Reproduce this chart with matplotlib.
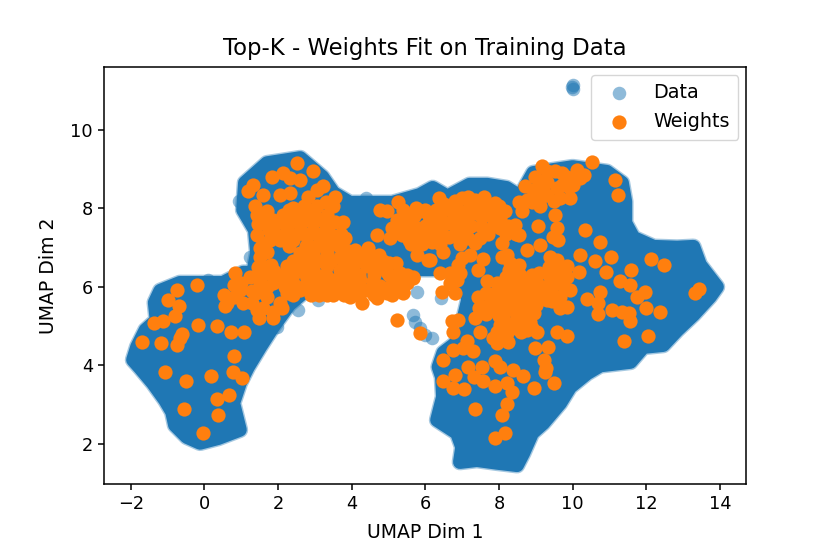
# UMAP embedding with the fitted weights on top
import numpy as np
import matplotlib
matplotlib.use('Agg')
import matplotlib.pyplot as plt

# stray data points, drawn see-through
stray=np.array([[10,11.15],[10,11.05],[9.98,11.08],[.1,6.18],[2.54,5.41],[3.09,5.67],[4.4,8.27],[.94,8.2],[1.24,6.76],
 [5.77,5.87],[6.42,5.71],[1.97,4.98],[5.67,5.29],[5.72,5.11],[5.86,4.95],[5.99,4.78],[6.18,4.7]])
# outline of the saturated part of the data cloud, clockwise
outline=np.array([[-.12,2.03],[-.48,2.18],[-.8,2.48],[-.88,2.82],[-1.07,3.12],[-1.4,3.55],[-1.75,3.94],[-1.94,4.14],[-1.83,4.47],
 [-1.6,4.9],[-1.3,5.15],[-1.35,5.6],[-1.2,5.9],[-.67,6.1],[-.12,6.1],[.5,6.1],[1.05,6.36],[1.32,6.36],[1.43,6.87],[1.37,7.45],
 [1.05,7.96],[1.1,8.65],[1.7,9.15],[2.6,9.28],[3.2,8.8],[3.5,8.39],[3.95,8.14],[5.1,8.14],[5.85,8.34],[6.2,8.52],[6.6,8.3],[7.2,8.6],
 [7.68,8.6],[8.2,8.52],[8.57,8.3],[8.93,8.9],[10,9.05],[10.93,8.93],[11.34,8.65],[11.43,8.17],[11.43,7.63],[11.65,7.25],[12.2,7.02],
 [12.84,7],[13.28,7.02],[13.46,6.56],[13.92,6],[13.73,5.75],[13.28,5.29],[12.84,4.9],[12.46,4.52],[11.92,4.47],[11.57,4.09],
 [10.75,4],[10.39,3.8],[9.93,3.45],[9.66,3.04],[9.2,2.53],[8.9,2.28],[8.66,1.77],[8.49,1.46],[7.95,1.52],[7.4,1.59],[6.94,1.54],
 [7,1.92],[6.86,2.28],[6.32,2.61],[6.48,3.2],[6.45,3.71],[6.36,3.96],[6.49,4.32],[6.77,4.52],[7.13,4.9],[7.03,5.16],[7.16,5.67],
 [7,6.3],[6.4,6.45],[5.8,6.45],[5.3,6.1],[4.5,6],[3.6,6],[2.8,5.95],[2.3,5.55],[1.86,4.98],[1.51,4.47],
 [1.18,3.96],[.96,3.55],[.78,3.04],[.96,2.36],[.37,2.15]])
# fitted weights
weights=np.array([[-.03,2.27],[.38,2.74],[-.56,2.89],[.35,3.14],[.67,3.24],[1.01,3.67],[.77,3.84],[.18,3.73],[-.51,3.6],[-1.07,3.83],
 [.81,4.25],[-.75,4.51],[-.67,4.69],[-.6,4.8],[-1.17,4.58],[-1.7,4.59],[-1.37,5.08],[-1.12,5.13],[-.8,5.27],[-.69,5.52],[-1,5.66],[-.76,5.92],
 [-.18,5.03],[.33,5.01],[.72,4.84],[1.07,4.86],[-.21,6.05],[.53,5.8],[.56,5.52],[1.48,5.2],[1.87,5.2],[1.85,5.37],[2.1,5.46],
 [.83,6.35],[1.24,6.26],[.96,5.92],[.6,5.58],[1.05,5.58],[1.42,5.41],[1.69,5.75],[1.87,6.09],[1.51,6.09],[1.51,6.77],[1.6,7.11],[1.42,7.32],
 [1.78,7.2],[1.33,8.6],[1.19,8.43],[1.6,8.34],[1.37,8.05],[1.42,7.83],[1.69,7.92],[1.6,7.62],[1.87,7.71],[1.83,8.79],[2.14,8.9],[2.5,9.15],
 [2.32,8.77],[2.6,8.73],[2.05,8.34],[2.32,8.39],[2.96,8.94],[3.23,8.56],[3.05,8.47],[2.82,8.3],[3.55,8.3],[3.5,8.05],[3.32,7.83],[3.77,7.66],
 [3.82,7.24],[2.14,7.83],[2.5,7.83],[2.87,7.92],[3.05,8.05],[2.23,7.54],[2.6,7.58],[2.96,7.62],[3.32,7.45],[2.05,7.2],[2.41,7.2],[2.78,7.28],
 [3.14,7.2],[3.5,7.11],[2.6,6.86],[2.96,6.86],[3.32,6.86],[3.68,6.77],[4.04,6.77],[4.41,6.86],[2.23,6.52],[2.6,6.52],[2.96,6.52],[3.32,6.52],
 [3.68,6.43],[4.04,6.48],[4.41,6.52],[4.77,6.48],[2.05,6.18],[2.41,6.09],[2.78,6.18],[3.14,6.18],[3.5,6.18],[3.86,6.14],[4.23,6.18],[4.59,6.14],
 [4.95,6.39],[5.31,6.35],[5.67,6.26],[5.49,6.09],[5.13,6.09],[4.77,6.01],[4.41,5.92],[4.04,5.88],[3.68,5.97],[3.32,5.8],[3.05,6.01],[4.27,5.58],
 [4.68,5.71],[4.95,5.84],[5.4,5.84],[3.95,5.75],[2.6,5.92],[2.23,5.84],[2.05,5.58],[1.87,5.33],[5.22,5.16],[4.77,7.96],[4.95,7.92],[5.25,8.17],
 [4.68,7.32],[5.04,7.24],[5.36,7.32],[5.58,7.83],[5.22,7.71],[5.86,7.92],[5.99,7.54],[5.67,7.37],[6.13,7.2],[5.77,6.82],[6.08,6.69],[5.86,4.82],
 [6.37,8.26],[5.99,7.96],[6.67,7.96],[6.99,8.26],[7.35,8.22],[7.58,8.3],[7.9,8.13],[8.17,7.92],[6.94,7.92],[7.35,7.88],[7.67,7.83],[8.03,7.75],
 [6.58,7.62],[7.03,7.62],[6.22,7.71],[5.49,7.49],[6.22,7.45],[6.63,7.28],[6.17,7.15],[7.17,7.24],[7.49,7.24],[7.35,7.11],[8.03,7.49],[8.44,7.58],
 [8.53,7.32],[8.08,7.11],[8.21,6.82],[8.08,6.77],[6.13,6.69],[6.49,6.9],[6.99,6.73],[7.21,6.82],[6.9,6.56],[7.57,6.71],[7.44,6.42],[6.4,6.35],
 [6.67,6.35],[6.95,6.35],[6.45,5.88],[6.81,5.84],[6.67,6.09],[6.85,6.18],[5.4,6.26],[5.67,6.22],[5.4,5.88],[8.26,6.43],[8.58,6.3],[7.67,6.14],
 [7.94,6.09],[8.3,6.09],[8.66,6.01],[9.03,6.09],[9.39,6.26],[9.84,6.52],[10.16,6.39],[9.57,6.09],[9.93,5.92],[9.66,5.75],[9.3,5.67],[9.03,5.75],
 [8.75,5.67],[8.39,5.67],[8.03,5.75],[7.42,5.75],[7.58,5.5],[7.85,5.41],[8.21,5.41],[8.58,5.41],[8.94,5.33],[9.66,5.46],[9.84,5.5],[7.35,5.2],
 [6.72,5.12],[6.9,5.16],[6.76,4.86],[8.03,5.03],[8.3,4.99],[8.75,4.9],[9.03,4.84],[7.49,4.86],[8.12,5.24],[8.66,5.16],[9.57,4.84],[9.84,4.75],
 [9.16,9.07],[10.53,9.18],[11.14,8.71],[11.22,8.33],[10.11,8.98],[9.52,8.94],[8.98,8.81],[8.71,8.56],[9.84,8.81],[10.2,8.77],[9.3,8.68],[8.93,8.47],
 [9.57,8.51],[9.93,8.26],[9.66,8.26],[9.3,8.34],[8.75,8.22],[9.12,8.05],[8.62,7.92],[9.52,7.83],[9.07,7.56],[9.57,7.49],[9.48,7.28],[9.6,7.2],
 [8.77,6.93],[9.12,7.07],[9.39,6.77],[9.57,6.69],[10.19,6.82],[10.34,7.44],[10.75,7.14],[10.6,6.67],[11.04,6.76],[10.9,6.37],[12.12,6.71],[12.47,6.56],
 [11.59,6.42],[11.29,6.14],[11.56,6.05],[11.74,5.75],[11.97,5.86],[10.75,5.86],[10.4,5.69],[10.7,5.58],[10.7,5.31],[11.06,5.4],[11.34,5.35],[11.52,5.33],
 [11.56,5.14],[12,5.46],[12.38,5.35],[13.33,5.84],[13.43,5.95],[11.4,4.61],[12.06,4.76],[7.94,4.56],[8.21,4.82],[8.98,4.44],[9.34,4.46],[9.21,4.14],
 [9.27,3.93],[9.24,3.82],[9.5,3.56],[8.94,3.42],[7.89,4.12],[8.03,3.97],[8.39,3.89],[8.66,3.72],[7.53,3.97],[7.15,3.97],[7.31,3.7],[7.56,3.61],[6.81,3.76],
 [6.47,3.61],[6.76,3.42],[7.05,3.39],[6.49,4.14],[6.76,4.39],[7.03,4.44],[7.29,4.37],[7.12,4.61],[7.89,3.48],[8.23,3.55],[8.35,3.33],[8.21,3.01],[8.08,2.74],
 [7.34,2.9],[8.15,2.27],[7.89,2.14],[8.3,5.8],[8.6,5.8],[8.9,5.9],[8.4,6.2],[8.2,5.6],[8.6,5.6]])
# more weights where they pile up: left mass, middle band, top right, centre right
weights_left=np.array([[1.75,7.65],[2.05,7.65],[2.35,7.65],[2.65,7.65],[2.95,7.65],[3.25,7.65],[3.55,7.65],[2.2,7.35],[2.5,7.35],[2.8,7.35],
 [3.1,7.35],[3.4,7.35],[3.7,7.35],[2.3,7.05],[2.75,7.05],[3.05,7.05],[3.35,7.05],[3.65,7.05],[2.4,6.65],[2.75,6.65],[3.1,6.65],[3.45,6.65],
 [3.85,6.65],[4.2,6.65],[4.6,6.65],[4.85,6.65],[2.15,6.3],[2.4,6.3],[2.75,6.3],[3.05,6.3],[3.3,6.3],[3.7,6.3],[3.95,6.3],[4.2,6.3],[4.6,6.3],
 [5,6.3],[5.2,6.3],[5.5,6.3],[1.7,6],[2.2,6],[2.5,6],[2.9,6],[3.3,6],[3.5,6],[3.9,6],[4.2,6],[4.6,6],[5,6],[5.3,6],[2.4,5.8],[2.9,5.8],[3.1,5.8],
 [3.5,5.8],[3.8,5.8],[4.2,5.8],[4.6,5.8],[5.1,5.8],[1,6.1],[1.3,5.9],[1.3,5.6],[.8,5.75],[.8,6.05],[1.6,5.45],[1.65,6.4],[1.6,6.5],[1.45,7.6],
 [2.4,8],[2.7,8.05],[3.3,8.15],[3,7.8],[2.7,7.85],[2.3,7.95],[3.85,6.95],[4.1,6.95],[4.45,7],[4.75,6.8],[5,6.6],[5.2,6.6],
 [1.5,7],[1.45,6.5],[1.55,6.3],[1.75,6.35],[1.9,6.4],[1.4,5.85],[1.8,6.55],[1.7,6.9],[1.9,7.4],[1.75,7.45]])
weights_mid=np.array([[6.8,8.05],[7.2,8.05],[7.5,8.05],[7.75,8.05],[8,8.05],[5.7,7.8],[6.1,7.8],[6.4,7.8],[6.8,7.8],[7.15,7.8],[7.5,7.8],[7.85,7.8],
 [5.4,7.55],[5.7,7.55],[6.4,7.55],[6.8,7.55],[7.25,7.55],[7.5,7.55],[7.85,7.55],[8.25,7.55],[5.8,7.35],[6,7.35],[6.45,7.35],[6.85,7.35],[7.05,7.35],
 [7.7,7.35],[8.2,7.35],[8.45,7.35],[5.6,7.1],[5.9,7.1],[6.4,7.1],[6.95,7.1],[6.3,7.95],[6.5,8.1],[6.8,8.2],[7.15,8.3],[5.4,7.95],[5.3,7.5],[5.1,7.5],
 [5.5,7.7],[5.75,8],[5.2,7.4],[5.55,7.2]])
weights_top=np.array([[9.1,8.7],[9.3,8.95],[9.7,8.6],[9.9,8.55],[9.7,8.9],[9.15,8.45],[9.1,8.2],[8.9,8.15],[8.55,8.15],[9.5,8.2],[10,8.6],[10.3,8.85]])
weights_right=np.array([[8.3,6.6],[8.2,6.25],[8.55,6.55],[8.9,6.3],[9.1,6.35],[9.35,6.5],[9.65,6.45],[9.65,6.25],[9.85,6.25],[8.1,6],[8.5,6],[8.85,6.1],
 [9.25,6],[9.45,5.85],[9.75,6.05],[8.15,5.85],[8.5,5.85],[8.8,5.9],[9.15,5.9],[9.45,5.65],[9,5.55],[8.85,5.6],[7.65,5.85],[7.9,5.85],[7.75,5.6],[8,5.6],
 [8.4,5.45],[8.1,5.15],[8.45,5.15],[8.45,4.95],[8.6,4.85],[8.1,4.8],[8.25,4.6],[8.85,5.1],[8.9,4.95],[8.7,5.35],[7.65,5.3],[7.45,5.45],[8,5.25],[7.95,4.85],[7.85,4.7]])
tick_x=['\u22122','0','2','4','6','8','10','12','14']

blue='#1f77b4'
orange='#ff7f0e'
w=np.vstack([weights,weights_left,weights_mid,weights_top,weights_right])

fig=plt.figure(figsize=(8.3,5.53),dpi=100)
ax=fig.add_axes([104/830,1-484/553,642/830,417/553])
# the cloud is so dense that it saturates; soft edge first, then the solid body
ax.fill(outline[:,0],outline[:,1],fc=blue,ec=blue,lw=12,alpha=0.4,joinstyle='round')
ax.fill(outline[:,0],outline[:,1],fc=blue,ec=blue,lw=10,joinstyle='round')
ax.scatter(stray[:,0],stray[:,1],s=95,c=blue,alpha=0.5,linewidths=0,label='Data')
ax.scatter(w[:,0],w[:,1],s=105,c=orange,linewidths=0,label='Weights')
ax.set_xlim(-2.73,14.71)
ax.set_ylim(0.98,11.6)
ax.set_xticks(np.arange(-2,15,2))
ax.set_xticklabels(tick_x)
ax.set_yticks([2,4,6,8,10])
ax.tick_params(labelsize=12.8,length=4.5,width=1.1)
for s in ax.spines.values():
    s.set_linewidth(1.1)
ax.set_title('Top-K - Weights Fit on Training Data',fontsize=16.4,pad=9)
ax.set_xlabel('UMAP Dim 1',fontsize=13.6,labelpad=7)
ax.set_ylabel('UMAP Dim 2',fontsize=13.6,labelpad=9)
ax.legend(loc='upper right',fontsize=13.8,borderpad=0.45,labelspacing=0.5,bbox_to_anchor=(1.0032,1.0044))
fig.savefig('out.png',dpi=100)
